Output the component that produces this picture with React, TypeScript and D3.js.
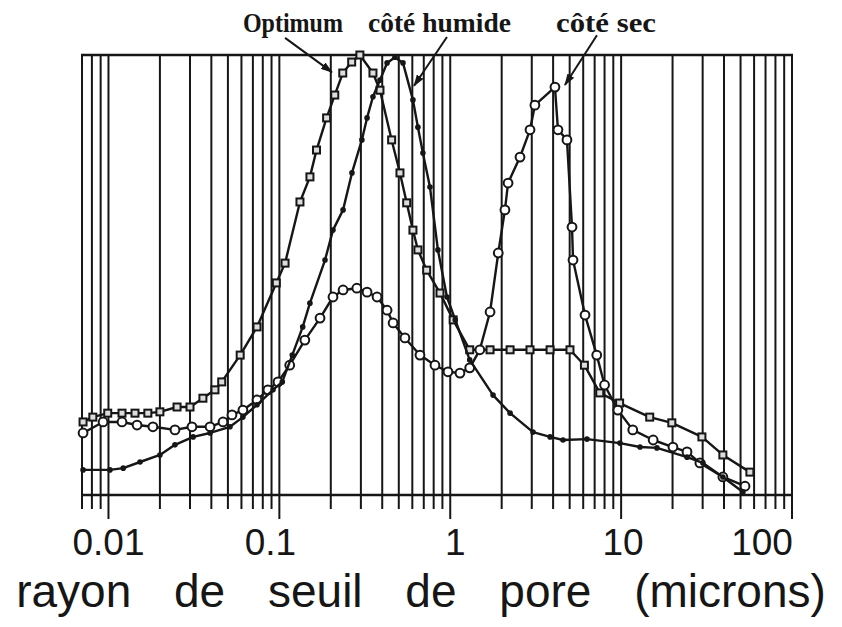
import React from "react";
import * as d3 from "d3";

// pore throat radius (microns) and ordinate (arbitrary units, 0-100)
const optimumX = [0.0071, 0.0081, 0.0099, 0.012, 0.0143, 0.017, 0.02, 0.0252, 0.03, 0.0357, 0.042, 0.046, 0.059, 0.074, 0.096, 0.108, 0.132, 0.151, 0.165, 0.189, 0.211, 0.235, 0.265, 0.296, 0.353, 0.388, 0.454, 0.508, 0.556, 0.605, 0.647, 0.728, 0.871, 1.04, 1.3, 1.71, 2.24, 2.93, 3.84, 5.02, 6.1, 7.5, 9.8, 14.7, 19.8, 29.7, 39.4, 56.7];
const optimumY = [16.6, 17.7, 18.6, 18.6, 18.6, 18.6, 18.9, 20.0, 20.0, 22.0, 23.9, 25.7, 31.8, 38.2, 48.2, 52.7, 66.6, 72.3, 78.4, 85.7, 90.9, 95.9, 98.4, 100, 95.9, 92.0, 80.7, 73.2, 66.4, 60.2, 55.7, 51.1, 45.9, 39.8, 33.0, 33.0, 33.0, 33.0, 33.0, 33.0, 29.5, 23.2, 20.9, 17.7, 16.4, 13.2, 9.1, 5.2];

const humideX = [0.0071, 0.0102, 0.0122, 0.0153, 0.02, 0.0245, 0.0313, 0.0393, 0.0514, 0.0612, 0.074, 0.0918, 0.104, 0.119, 0.137, 0.151, 0.185, 0.206, 0.236, 0.266, 0.304, 0.326, 0.353, 0.388, 0.427, 0.475, 0.529, 0.605, 0.647, 0.692, 0.761, 0.847, 0.957, 1.07, 1.3, 1.78, 2.24, 3.05, 3.84, 4.57, 6.31, 9.84, 12.9, 16.2, 24.3, 30.1, 39.4, 51.6];
const humideY = [5.7, 5.7, 6.1, 7.5, 9.1, 11.4, 13.2, 14.1, 15.5, 17.7, 20.5, 23.9, 25.7, 31.8, 38.2, 43.6, 53.4, 60.2, 64.8, 73.2, 80.7, 85.7, 90.5, 94.3, 98.2, 99.5, 98.2, 89.8, 83.6, 77.7, 70.0, 55.7, 45.0, 39.8, 30.7, 22.7, 18.6, 14.3, 13.2, 12.5, 12.7, 11.8, 10.9, 10.7, 8.6, 7.3, 4.1, 0.7];

const secX = [0.0071, 0.0093, 0.012, 0.0147, 0.0182, 0.0245, 0.0308, 0.0393, 0.0468, 0.0528, 0.0612, 0.074, 0.0857, 0.0982, 0.115, 0.141, 0.173, 0.206, 0.236, 0.284, 0.326, 0.373, 0.427, 0.463, 0.543, 0.665, 0.814, 0.97, 1.14, 1.3, 1.49, 1.71, 1.91, 2.09, 2.18, 2.56, 2.93, 3.13, 4.1, 4.27, 4.82, 5.16, 5.23, 6.15, 7.2, 8.0, 9.57, 11.7, 15.4, 20.1, 24.3, 28.9, 39.4, 53.1];
const secY = [14.1, 16.6, 16.6, 15.9, 15.5, 14.8, 15.5, 15.5, 16.6, 18.2, 19.3, 21.6, 23.9, 25.7, 29.5, 35.2, 40.2, 45.0, 46.6, 47.0, 46.1, 45.0, 42.0, 39.1, 35.7, 31.8, 29.5, 28.0, 27.7, 28.9, 33.0, 41.6, 55.0, 64.8, 70.9, 76.8, 83.0, 88.6, 92.7, 83.0, 80.7, 60.9, 53.4, 40.9, 31.8, 25.0, 19.3, 14.8, 12.5, 10.9, 9.8, 7.3, 4.1, 2.0];

const tickValues = [0.01, 0.1, 1, 10, 100];
const tickLabels = ["0.01", "0.1", "1", "10", "100"];
const xAxisTitle = "rayon de seuil de pore (microns)";

const annotationTexts = ["Optimum", "côté humide", "côté sec"];
const annotationTextX = [0.0612, 0.33, 4.16];
const annotationFrom = [[0.108, 103.9], [0.957, 104.1], [7.22, 104.5]];
const annotationTo = [[0.203, 96.1], [0.614, 93.0], [4.69, 93.2]];

const INK = "#161616";

export default function App() {
  const W = 842;
  const H = 627;
  const x = d3.scaleLog().domain([0.007, 100]).range([82, 792]);
  const y = d3.scaleLinear().domain([0, 100]).range([495, 55]);
  const line = d3
    .line<[number, number]>()
    .x((d) => x(d[0]))
    .y((d) => y(d[1]));

  const grid = x.ticks();
  const isMajor = (v: number) => Math.abs(Math.log10(v) - Math.round(Math.log10(v))) < 1e-6;

  const series = [
    { xs: optimumX, ys: optimumY, marker: "square" },
    { xs: secX, ys: secY, marker: "circle" },
    { xs: humideX, ys: humideY, marker: "dot" },
  ];

  const labelDx = [0, -9, 5, 2, -30];
  const textWidths = [100, 143, 100];

  return (
    <div style={{ position: "absolute", left: 0, top: 0, width: W, height: H, background: "#fff" }}>
      <svg width={W} height={H} viewBox={`0 0 ${W} ${H}`}>
        <defs>
          <marker id="arr" viewBox="0 0 12 8" refX="11" refY="4" markerWidth="12" markerHeight="8" markerUnits="userSpaceOnUse" orient="auto">
            <path d="M0,0 L12,4 L0,8 z" fill={INK} />
          </marker>
        </defs>
        {/* vertical grid lines with ticks below axis */}
        {grid.map((v, i) => (
          <line
            key={"g" + i}
            x1={x(v)}
            x2={x(v)}
            y1={y(100)}
            y2={y(0) + (isMajor(v) ? 24 : 14)}
            stroke={INK}
            strokeWidth={2}
          />
        ))}
        {/* frame top & bottom axis */}
        <line x1={x(0.007) - 1} x2={x(100) + 1} y1={y(100)} y2={y(100)} stroke={INK} strokeWidth={2.5} />
        <line x1={x(0.007) - 1} x2={x(100) + 1} y1={y(0)} y2={y(0)} stroke={INK} strokeWidth={2.5} />

        {/* series lines */}
        {series.map((s, si) => {
          const pts: [number, number][] = s.xs.map((v, i) => [v, s.ys[i]]);
          return (
            <g key={"s" + si}>
              <path d={line(pts) || ""} fill="none" stroke={INK} strokeWidth={2.4} strokeLinejoin="round" />
              {pts.map((p, i) => {
                const cx = x(p[0]);
                const cy = y(p[1]);
                if (s.marker === "square")
                  return <rect key={i} x={cx - 3.5} y={cy - 3.5} width={7} height={7} fill="#ddd" stroke={INK} strokeWidth={2} />;
                if (s.marker === "circle")
                  return <circle key={i} cx={cx} cy={cy} r={4.4} fill="#fff" stroke={INK} strokeWidth={2} />;
                return <circle key={i} cx={cx} cy={cy} r={2.8} fill={INK} />;
              })}
            </g>
          );
        })}

        {/* annotations */}
        {annotationTexts.map((t, i) => (
          <g key={"a" + i}>
            <text
              x={x(annotationTextX[i])}
              y={y(105.2)}
              fontFamily="'Liberation Serif', 'DejaVu Serif', serif"
              fontWeight="bold"
              fontSize={27}
              fill={INK}
              textLength={textWidths[i]}
              lengthAdjust="spacingAndGlyphs"
            >
              {t}
            </text>
            <line
              x1={x(annotationFrom[i][0])}
              y1={y(annotationFrom[i][1])}
              x2={x(annotationTo[i][0])}
              y2={y(annotationTo[i][1])}
              stroke={INK}
              strokeWidth={2}
              markerEnd="url(#arr)"
            />
          </g>
        ))}

        {/* tick labels */}
        {tickValues.map((v, i) => (
          <text
            key={"t" + i}
            x={x(v) + labelDx[i]}
            y={555}
            textAnchor="middle"
            fontFamily="'Liberation Sans', Arial, sans-serif"
            fontSize={37}
            fill={INK}
          >
            {tickLabels[i]}
          </text>
        ))}
        <text
          x={421}
          y={607}
          textAnchor="middle"
          fontFamily="'Liberation Sans', Arial, sans-serif"
          fontSize={46}
          wordSpacing={30}
          fill={INK}
        >
          {xAxisTitle}
        </text>
      </svg>
    </div>
  );
}
